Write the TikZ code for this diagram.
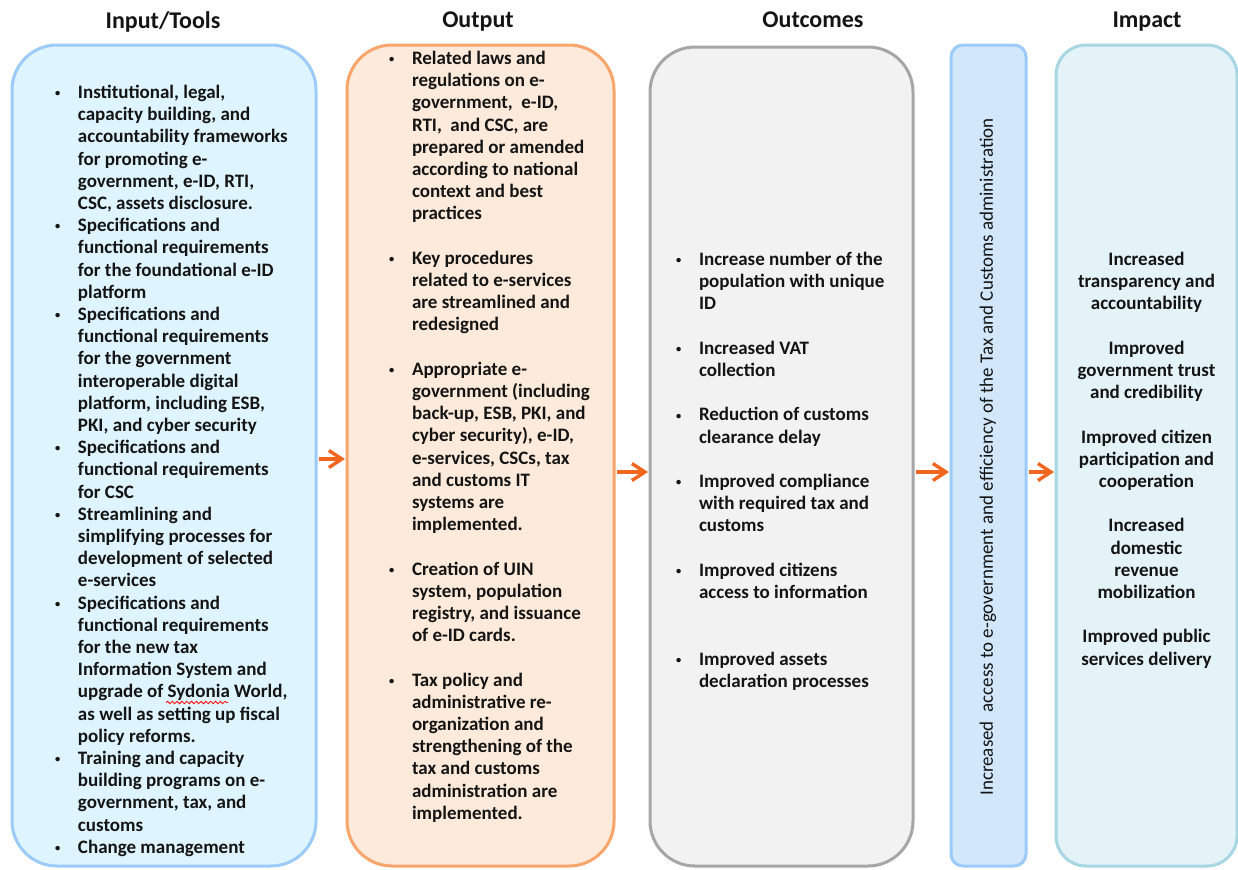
\documentclass[tikz,border=0pt]{standalone}
\usepackage{fontspec}
\setmainfont{Carlito}
\usetikzlibrary{arrows.meta,decorations.pathmorphing}
\definecolor{inFill}{HTML}{DEF4FE}
\definecolor{inLine}{HTML}{9DCBF7}
\definecolor{outFill}{HTML}{FDEADA}
\definecolor{outLine}{HTML}{F8A56C}
\definecolor{ocFill}{HTML}{F2F2F2}
\definecolor{ocLine}{HTML}{A6A6A6}
\definecolor{vFill}{HTML}{D2E7FA}
\definecolor{vLine}{HTML}{9CCBFA}
\definecolor{imFill}{HTML}{E4F3F8}
\definecolor{imLine}{HTML}{A8D6E3}
\definecolor{arrOrange}{HTML}{F0661E}
\definecolor{txt}{HTML}{141414}
\newcommand\mybul{\makebox[12pt][l]{\hspace{0.6pt}\raisebox{0.9pt}{\scalebox{0.55}{\textbullet}}}}
\newcommand\myind{\hspace*{12pt}}
\begin{document}
\begin{tikzpicture}[x=0.5pt,y=-0.5pt,
  every node/.style={inner sep=0pt,outer sep=0pt},
  panel/.style={draw,line width=1.5pt,anchor=north west},
  body/.style={font=\fontsize{9.5pt}{11.1pt}\selectfont\bfseries,align=left,anchor=north west,text=txt},
  head/.style={font=\fontsize{12pt}{14pt}\selectfont\bfseries,text=txt},
  arr/.style={draw=arrOrange,line width=1.7pt,-{Straight Barb[length=6.5pt,width=8.5pt]},shorten <=1.5pt,shorten >=1pt}]
\useasboundingbox (0,0) rectangle (1238,869);

% headers
\node[head] (h1) at (163,22) {Input/Tools};
\node[head] (h2) at (478,22) {Output};
\node[head] (h3) at (813,20) {Outcomes};
\node[head] (h4) at (1147,22) {Impact};

% panels
\node[panel,draw=inLine,fill=inFill,minimum width=152pt,minimum height=410.5pt,rounded corners=22.5pt] (in) at (12,45) {};
\node[panel,draw=outLine,fill=outFill,minimum width=133.5pt,minimum height=410.5pt,rounded corners=22.5pt] (out) at (347,45) {};
\node[panel,draw=ocLine,fill=ocFill,minimum width=131.5pt,minimum height=409.5pt,rounded corners=22.5pt] (oc) at (650,47) {};
\node[panel,draw=vLine,fill=vFill,minimum width=37.5pt,minimum height=410.5pt,rounded corners=6pt] (vb) at (951,45) {};
\node[panel,draw=imLine,fill=imFill,minimum width=90.5pt,minimum height=410.5pt,rounded corners=15pt] (im) at (1056,45) {};

% arrows
\coordinate (ya) at (0,459);
\coordinate (yb) at (0,472);
\draw[arr] (in.east |- ya) -- (out.west |- ya);
\draw[arr] (out.east |- yb) -- (oc.west |- yb);
\draw[arr] (oc.east |- yb) -- (vb.west |- yb);
\draw[arr] (vb.east |- yb) -- (im.west |- yb);

% texts
\node[body] (tin) at (54,83) {\strut\mybul Institutional, legal,\\
\myind capacity building, and\\
\myind accountability frameworks\\
\myind for promoting e-\\
\myind government, e-ID, RTI,\\
\myind CSC, assets disclosure.\\
\mybul Specifications and\\
\myind functional requirements\\
\myind for the foundational e-ID\\
\myind platform\\
\mybul Specifications and\\
\myind functional requirements\\
\myind for the government\\
\myind interoperable digital\\
\myind platform, including ESB,\\
\myind PKI, and cyber security\\
\mybul Specifications and\\
\myind functional requirements\\
\myind for CSC\\
\mybul Streamlining and\\
\myind simplifying processes for\\
\myind development of selected\\
\myind e-services\\
\mybul Specifications and\\
\myind functional requirements\\
\myind for the new tax\\
\myind Information System and\\
\myind upgrade of Sydonia World,\\
\myind as well as setting up fiscal\\
\myind policy reforms.\\
\mybul Training and capacity\\
\myind building programs on e-\\
\myind government, tax, and\\
\myind customs\\
\mybul Change management};
\draw[red,line width=0.4pt,decorate,decoration={snake,amplitude=0.6pt,segment length=2.4pt}] (166,702.5) -- (228,702.5);

\node[body] (tout) at (388,49) {\strut\mybul Related laws and\\
\myind regulations on e-\\
\myind government,~ e-ID,\\
\myind RTI,~ and CSC, are\\
\myind prepared or amended\\
\myind according to national\\
\myind context and best\\
\myind practices\\[11.1pt]
\mybul Key procedures\\
\myind related to e-services\\
\myind are streamlined and\\
\myind redesigned\\[11.1pt]
\mybul Appropriate e-\\
\myind government (including\\
\myind back-up, ESB, PKI, and\\
\myind cyber security), e-ID,\\
\myind e-services, CSCs, tax\\
\myind and customs IT\\
\myind systems are\\
\myind implemented.\\[11.1pt]
\mybul Creation of UIN\\
\myind system, population\\
\myind registry, and issuance\\
\myind of e-ID cards.\\[11.1pt]
\mybul Tax policy and\\
\myind administrative re-\\
\myind organization and\\
\myind strengthening of the\\
\myind tax and customs\\
\myind administration are\\
\myind implemented.};

\node[body] (toc) at (675,250) {\strut\mybul Increase number of the\\
\myind population with unique\\
\myind ID\\[11.1pt]
\mybul Increased VAT\\
\myind collection\\[11.1pt]
\mybul Reduction of customs\\
\myind clearance delay\\[11.1pt]
\mybul Improved compliance\\
\myind with required tax and\\
\myind customs\\[11.1pt]
\mybul Improved citizens\\
\myind access to information\\[22.2pt]
\mybul Improved assets\\
\myind declaration processes};

\node[body,align=center,anchor=north] (timp) at (1146.5,250) {\strut Increased\\
transparency and\\
accountability\\[11.1pt]
Improved\\
government trust\\
and credibility\\[11.1pt]
Improved citizen\\
participation and\\
cooperation\\[11.1pt]
Increased\\
domestic\\
revenue\\
mobilization\\[11.1pt]
Improved public\\
services delivery};

\node[font=\fontsize{9.5pt}{11.1pt}\selectfont,text=txt,rotate=90] (vt) at (988,457) {Increased~ access to e-government and efficiency of the Tax and Customs administration};
\end{tikzpicture}
\end{document}
